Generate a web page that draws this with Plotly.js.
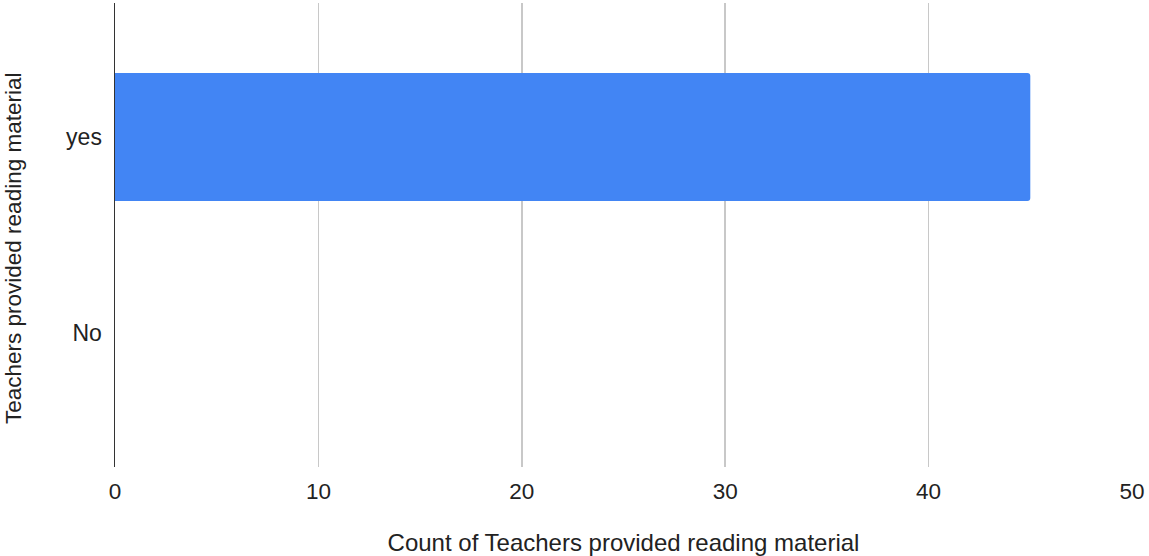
<!DOCTYPE html>
<html>
<head>
<meta charset="utf-8">
<script src="https://cdn.plot.ly/plotly-3.0.1.min.js"></script>
<style>html,body{margin:0;padding:0;background:#fff;}#chart{width:1149px;height:556px;}</style>
</head>
<body>
<div id="chart"></div>
<script>
const categories = ['No', 'yes'];
const counts = [0, 45];
const xTickValues = [0, 10, 20, 30, 40, 50];
const xTitle = 'Count of Teachers provided reading material';
const yTitle = 'Teachers provided reading material';

const font = {family: 'Arial, "Liberation Sans", sans-serif', color: '#222'};

Plotly.newPlot('chart', [{
  type: 'bar',
  orientation: 'h',
  y: categories,
  x: counts,
  width: 0.653,
  marker: {color: '#4285F4', cornerradius: 3},
  hoverinfo: 'none'
}], {
  width: 1149,
  height: 556,
  margin: {l: 115, r: 17, t: 3, b: 89},
  paper_bgcolor: '#fff',
  plot_bgcolor: '#fff',
  showlegend: false,
  font: Object.assign({size: 22}, font),
  xaxis: {
    range: [0, 50],
    tickvals: xTickValues,
    ticktext: xTickValues.map(String),
    showgrid: true,
    gridcolor: '#c8c8c8',
    gridwidth: 1.6,
    zeroline: false,
    showline: false,
    ticks: '',
    ticklabelstandoff: 8,
    tickfont: Object.assign({size: 22.5}, font),
    title: {text: xTitle, font: Object.assign({size: 24}, font), standoff: 35}
  },
  yaxis: {
    type: 'category',
    categoryorder: 'array',
    categoryarray: categories,
    range: [-0.684, 1.684],
    showgrid: false,
    zeroline: false,
    showline: true,
    linecolor: '#333',
    linewidth: 1.5,
    ticks: '',
    ticklabelstandoff: 7,
    tickfont: Object.assign({size: 23}, font)
  },
  annotations: [{
    text: yTitle,
    textangle: -90,
    xref: 'paper', yref: 'paper',
    x: 0, y: 0.5,
    xanchor: 'center', yanchor: 'middle',
    xshift: -102, yshift: -14,
    showarrow: false,
    font: Object.assign({size: 22.5}, font)
  }]
}, {displayModeBar: false, staticPlot: true});
</script>
</body>
</html>
